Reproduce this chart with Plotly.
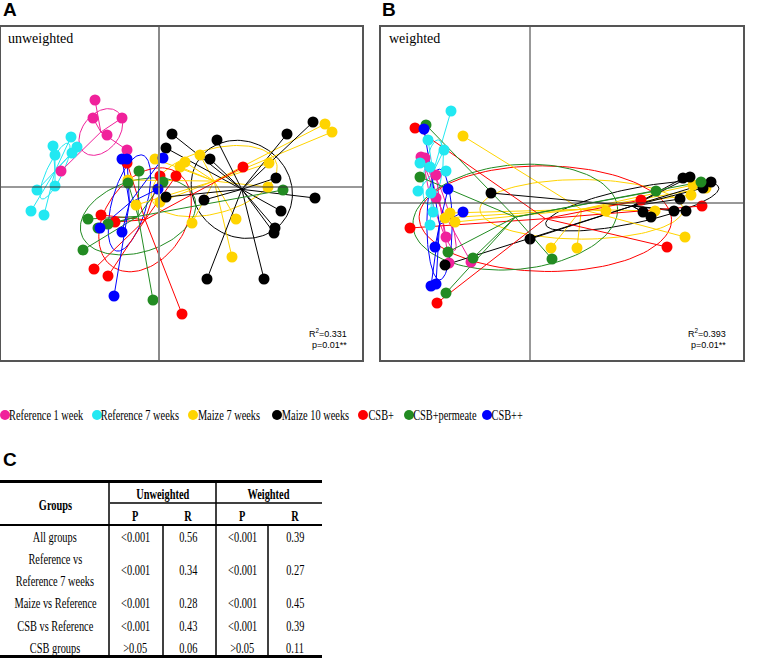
import numpy as np
import plotly.graph_objects as go

W, H = 778, 658

groups = ["Reference 1 week", "Reference 7 weeks", "Maize 7 weeks", "Maize 10 weeks",
          "CSB+", "CSB+permeate", "CSB++"]
colors = ["#F0219B", "#22E8F2", "#FFD400", "#000000", "#FF0000", "#228B22", "#0000FF"]

# ---------------- Panel A: unweighted PCoA (axis 1, axis 2) ----------------
unw_ref1_x = [-0.64, -0.66, -0.37, -0.52, -0.32, -0.98]
unw_ref1_y = [0.87, 0.69, 0.69, 0.52, 0.37, 0.16]
unw_ref7_x = [-1.06, -1.04, -0.88, -0.82, -0.87, -1.22, -1.04, -1.28, -1.15]
unw_ref7_y = [0.41, 0.32, 0.50, 0.40, 0.34, -0.03, 0.01, -0.24, -0.28]
unw_mz7_x = [1.66, 1.73, -0.04, 0.21, 0.26, 0.41, 1.10, 1.09, -0.31, -0.23, 0.01, 0.33, 0.77, 0.73]
unw_mz7_y = [0.63, 0.55, 0.28, 0.20, 0.25, 0.32, 0.24, 0.00, 0.07, -0.18, -0.15, -0.36, -0.32, -0.70]
unw_mz10_x = [0.13, 0.07, 0.58, 0.51, 1.28, 1.54, 1.17, 1.56, 1.22, 1.16, 1.15, 0.45, 0.07, 0.48, 1.05]
unw_mz10_y = [0.53, 0.39, 0.47, 0.28, 0.53, 0.65, 0.09, -0.11, -0.24, -0.41, -0.46, -0.13, -0.10, -0.92, -0.92]
unw_csb_x = [-0.32, 0.01, 0.17, -0.58, -0.44, -0.65, -0.51, 0.23, 0.84]
unw_csb_y = [0.24, 0.11, 0.11, -0.28, -0.35, -0.82, -0.89, -1.27, 0.20]
unw_csbp_x = [-0.20, 0.04, -0.31, -0.71, -0.61, -0.51, -0.76, -0.06, 1.24]
unw_csbp_y = [0.16, 0.05, 0.04, -0.32, -0.41, -0.37, -0.63, -1.13, -0.03]
unw_csbpp_x = [-0.37, -0.32, 0.04, -0.01, -0.59, -0.37, -0.45]
unw_csbpp_y = [0.28, 0.28, 0.29, -0.02, -0.41, -0.45, -1.09]

# ---------------- Panel B: weighted PCoA (axis 1, axis 2) ----------------
wtd_ref1_x = [-1.09, -1.05, -0.94, -0.94, -0.84, -0.81, -0.59]
wtd_ref1_y = [0.46, 0.45, 0.28, 0.05, -0.34, -0.60, -0.59]
wtd_ref7_x = [-0.79, -1.02, -0.86, -1.10, -0.84, -1.00, -1.12, -0.99, -0.97, -1.00]
wtd_ref7_y = [0.92, 0.63, 0.53, 0.40, 0.32, 0.36, 0.12, 0.10, -0.09, -0.22]
wtd_mz7_x = [-0.67, -0.80, -0.75, -0.85, 0.21, 0.47, 0.76, 1.25, 1.55, 1.61, 1.76, 1.63]
wtd_mz7_y = [0.67, -0.10, -0.19, -0.15, -0.45, -0.45, -0.08, -0.08, -0.34, 0.08, 0.15, 0.18]
wtd_mz10_x = [-0.39, 0.00, -0.85, 1.53, 1.60, 1.81, 1.73, 1.50, 1.44, 1.56, 1.13, 1.21]
wtd_mz10_y = [0.10, -0.36, -0.62, 0.25, 0.26, 0.21, 0.15, 0.04, -0.08, -0.08, -0.09, -0.14]
wtd_csb_x = [-1.15, -1.20, -0.93, 1.37, 1.72, 1.11]
wtd_csb_y = [0.75, -0.25, -1.00, -0.44, -0.03, 0.03]
wtd_csbp_x = [-1.04, -1.10, -0.82, -0.57, -0.84, 0.22, 1.26, 1.71]
wtd_csbp_y = [0.78, 0.26, -0.49, -0.55, -0.90, -0.56, 0.12, 0.21]
wtd_csbpp_x = [-1.06, -0.82, -0.67, -0.95, -0.99, -0.94]
wtd_csbpp_y = [0.74, 0.14, -0.09, -0.44, -0.83, -0.81]

panel_a = [(unw_ref1_x, unw_ref1_y), (unw_ref7_x, unw_ref7_y), (unw_mz7_x, unw_mz7_y),
           (unw_mz10_x, unw_mz10_y), (unw_csb_x, unw_csb_y), (unw_csbp_x, unw_csbp_y),
           (unw_csbpp_x, unw_csbpp_y)]
panel_b = [(wtd_ref1_x, wtd_ref1_y), (wtd_ref7_x, wtd_ref7_y), (wtd_mz7_x, wtd_mz7_y),
           (wtd_mz10_x, wtd_mz10_y), (wtd_csb_x, wtd_csb_y), (wtd_csbp_x, wtd_csbp_y),
           (wtd_csbpp_x, wtd_csbpp_y)]

stats_a = ["R<sup>2</sup>=0.331", "p=0.01**"]
stats_b = ["R<sup>2</sup>=0.393", "p=0.01**"]

# ---------------- Table C ----------------
table_groups = [["All groups"], ["Reference vs", "Reference 7 weeks"], ["Maize vs Reference"],
                ["CSB vs Reference"], ["CSB groups"]]
unw_p = ["<0.001", "<0.001", "<0.001", "<0.001", ">0.05"]
unw_r = ["0.56", "0.34", "0.28", "0.43", "0.06"]
wtd_p = ["<0.001", "<0.001", "<0.001", "<0.001", ">0.05"]
wtd_r = ["0.39", "0.27", "0.45", "0.39", "0.11"]


def ellipse(x, y, k=1.0, n=120):
    x = np.asarray(x, float)
    y = np.asarray(y, float)
    mx, my = x.mean(), y.mean()
    cov = np.cov(x, y, bias=True)
    vals, vecs = np.linalg.eigh(cov)
    vals = np.clip(vals, 0, None)
    t = np.linspace(0, 2 * np.pi, n)
    circ = np.vstack([np.cos(t), np.sin(t)])
    pts = vecs @ (k * np.sqrt(vals)[:, None] * circ)
    return mx + pts[0], my + pts[1]


def spider(x, y):
    mx, my = float(np.mean(x)), float(np.mean(y))
    xs, ys = [], []
    for xi, yi in zip(x, y):
        xs += [mx, xi, None]
        ys += [my, yi, None]
    return xs, ys


fig = go.Figure()

for panel, xa, ya in [(panel_a, "x", "y"), (panel_b, "x2", "y2")]:
    for (gx, gy), col in zip(panel, colors):
        ex, ey = ellipse(gx, gy)
        fig.add_trace(go.Scatter(x=ex, y=ey, mode="lines", line=dict(color=col, width=1),
                                 xaxis=xa, yaxis=ya, showlegend=False, hoverinfo="skip"))
    for (gx, gy), col in zip(panel, colors):
        sx, sy = spider(gx, gy)
        fig.add_trace(go.Scatter(x=sx, y=sy, mode="lines", line=dict(color=col, width=1),
                                 xaxis=xa, yaxis=ya, showlegend=False, hoverinfo="skip"))
    for (gx, gy), col, name in zip(panel, colors, groups):
        fig.add_trace(go.Scatter(x=gx, y=gy, mode="markers", name=name,
                                 marker=dict(color=col, size=11, line=dict(width=0)),
                                 xaxis=xa, yaxis=ya, showlegend=False))


def PX(px):
    return px / W


def PY(py):
    return 1 - py / H


ax_common = dict(showgrid=False, zeroline=False, showticklabels=False, ticks="",
                 showline=True, mirror=True, linecolor="#555555", linewidth=1.5)
fig.update_layout(
    width=W, height=H, margin=dict(l=0, r=0, t=0, b=0),
    paper_bgcolor="white", plot_bgcolor="white", showlegend=False,
    xaxis=dict(domain=[PX(1), PX(362)], range=[-1.58, 2.03], **ax_common),
    yaxis=dict(domain=[PY(360), PY(27)], range=[-1.73, 1.60], **ax_common),
    xaxis2=dict(domain=[PX(381), PX(743)], range=[-1.49, 2.13], anchor="y2", **ax_common),
    yaxis2=dict(domain=[PY(360), PY(27)], range=[-1.57, 1.76], anchor="x2", **ax_common),
)

shapes = []
# cross-hairs at the origin
shapes.append(dict(type="line", xref="x", yref="y domain", x0=0, x1=0, y0=0, y1=1,
                   line=dict(color="#8a8a8a", width=2)))
shapes.append(dict(type="line", xref="x domain", yref="y", x0=0, x1=1, y0=0, y1=0,
                   line=dict(color="#333333", width=1)))
shapes.append(dict(type="line", xref="x2", yref="y2 domain", x0=0, x1=0, y0=0, y1=1,
                   line=dict(color="#333333", width=1)))
shapes.append(dict(type="line", xref="x2 domain", yref="y2", x0=0, x1=1, y0=0, y1=0,
                   line=dict(color="#333333", width=1)))

annotations = []
serif = "Liberation Serif, serif"
serif_cond = "Liberation Serif, Times New Roman, Times, serif"   # condensed in post_script
sans = "Liberation Sans, Arial, sans-serif"

# panel letters
for txt, x, y in [("A", 1, 9), ("B", 380, 9), ("C", 1, 459)]:
    annotations.append(dict(text=txt, x=PX(x), y=PY(y), xref="paper", yref="paper",
                            xanchor="left", yanchor="middle", showarrow=False,
                            font=dict(family=sans, size=19, color="black", weight="bold")))
# panel titles
annotations.append(dict(text="unweighted", x=PX(6), y=PY(39), xref="paper", yref="paper",
                        xanchor="left", yanchor="middle", showarrow=False,
                        font=dict(family=serif, size=14, color="black")))
annotations.append(dict(text="weighted", x=PX(387), y=PY(39), xref="paper", yref="paper",
                        xanchor="left", yanchor="middle", showarrow=False,
                        font=dict(family=serif, size=14, color="black")))
# stats
for st, xr in [(stats_a, 349), (stats_b, 728)]:
    for txt, yy in zip(st, [333, 345]):
        annotations.append(dict(text=txt, x=PX(xr), y=PY(yy), xref="paper", yref="paper",
                                xanchor="right", yanchor="middle", showarrow=False,
                                font=dict(family=sans, size=9, color="black")))

# legend row
leg_dot_x = [5, 97, 193, 277, 363, 409, 487]
leg_txt_cx = [46, 140, 229, 315, 381, 445, 507]
leg_y = 415
for name, col, dx, tx in zip(groups, colors, leg_dot_x, leg_txt_cx):
    shapes.append(dict(type="circle", xref="paper", yref="paper",
                       x0=PX(dx - 5), x1=PX(dx + 5), y0=PY(leg_y + 5), y1=PY(leg_y - 5),
                       fillcolor=col, line=dict(width=0)))
    annotations.append(dict(text=name, x=PX(tx), y=PY(leg_y), xref="paper", yref="paper",
                            xanchor="center", yanchor="middle", showarrow=False,
                            font=dict(family=serif_cond, size=14, color="black")))


# table lines
def hline(y, x0, x1, w):
    shapes.append(dict(type="line", xref="paper", yref="paper", x0=PX(x0), x1=PX(x1),
                       y0=PY(y), y1=PY(y), line=dict(color="black", width=w)))


def vline(x, y0, y1, w):
    shapes.append(dict(type="line", xref="paper", yref="paper", x0=PX(x), x1=PX(x),
                       y0=PY(y0), y1=PY(y1), line=dict(color="black", width=w)))


hline(481.5, 0, 322, 3)
hline(503, 110, 322, 1.5)
hline(525, 0, 322, 2)
hline(656.5, 0, 322, 3)
vline(109, 481, 657, 1.5)
vline(216, 481, 657, 1.5)
vline(163, 525, 657, 1.5)
vline(268, 525, 657, 1.5)

tfont = dict(family=serif_cond, size=14, color="black")
bfont = dict(family=serif_cond, size=14, color="black", weight="bold")


def cell(txt, x, y, f):
    annotations.append(dict(text=txt.replace("<", "&lt;").replace(">", "&gt;"),
                            x=PX(x), y=PY(y), xref="paper", yref="paper",
                            xanchor="center", yanchor="middle", showarrow=False, font=f))


cell("Groups", 55, 505, bfont)
cell("Unweighted", 163, 494, bfont)
cell("Weighted", 268, 494, bfont)
for txt, x in zip(["P", "R", "P", "R"], [135, 188, 242, 295]):
    cell(txt, x, 516, bfont)
row_y = [537, 570, 603, 626, 648]
for g, a, b, c, d, y in zip(table_groups, unw_p, unw_r, wtd_p, wtd_r, row_y):
    if len(g) == 1:
        cell(g[0], 55, y, tfont)
    else:
        cell(g[0], 55, y - 11, tfont)
        cell(g[1], 55, y + 11, tfont)
    cell(a, 135, y, tfont)
    cell(b, 188, y, tfont)
    cell(c, 242, y, tfont)
    cell(d, 295, y, tfont)

fig.update_layout(shapes=shapes, annotations=annotations)

post = """
document.body.style.margin = '0';
document.body.style.padding = '0';
var gd = document.getElementById('{plot_id}');
var S = 0.74;
gd.querySelectorAll('text.annotation-text').forEach(function(t) {
  var ff = t.style.fontFamily || '';
  if (ff.indexOf('Times') >= 0) {
    var w = t.getComputedTextLength();
    t.setAttribute('textLength', (w * S).toFixed(2));
    t.setAttribute('lengthAdjust', 'spacingAndGlyphs');
    var g = t.closest('g.annotation-text-g');
    if (g) {
      g.querySelectorAll('rect').forEach(function(r) {
        var rw = parseFloat(r.getAttribute('width'));
        var rx = parseFloat(r.getAttribute('x') || '0');
        if (!isNaN(rw)) {
          r.setAttribute('x', (rx + rw * (1 - S) / 2).toFixed(2));
          r.setAttribute('width', (rw * S).toFixed(2));
        }
      });
    }
  }
});
"""
fig.write_html("out.html", post_script=post, config={"displayModeBar": False})
